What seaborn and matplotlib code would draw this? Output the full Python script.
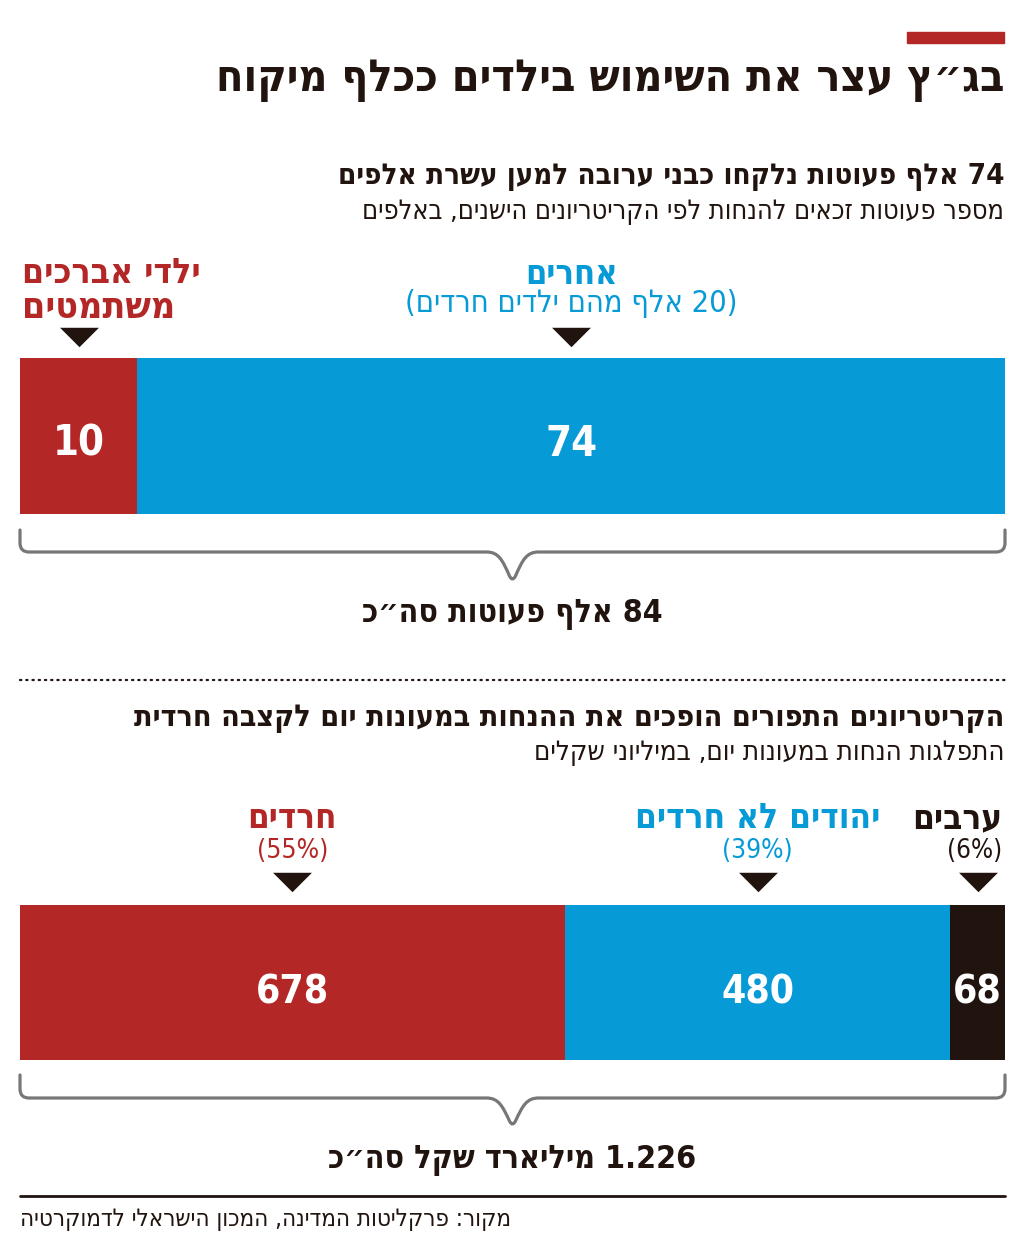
import re
import numpy as np
import pandas as pd
import matplotlib
matplotlib.use("Agg")
import matplotlib.pyplot as plt
import matplotlib.transforms as mtransforms
from matplotlib.path import Path
from matplotlib.patches import PathPatch
import seaborn as sns

# ── data ─────────────────────────────────────────────
title = "בג״ץ עצר את השימוש בילדים ככלף מיקוח"

kids_heading = "74 אלף פעוטות נלקחו כבני ערובה למען עשרת אלפים"
kids_sub = "מספר פעוטות זכאים להנחות לפי הקריטריונים הישנים, באלפים"
kids_groups = ["ילדי אברכים משתמטים", "אחרים"]
kids_values = [10, 74]
kids_notes = ["", "(20 אלף מהם ילדים חרדים)"]
kids_total = "84 אלף פעוטות סה״כ"

budget_heading = "הקריטריונים התפורים הופכים את ההנחות במעונות יום לקצבה חרדית"
budget_sub = "התפלגות הנחות במעונות יום, במיליוני שקלים"
budget_groups = ["חרדים", "יהודים לא חרדים", "ערבים"]
budget_values = [678, 480, 68]
budget_shares = ["(55%)", "(39%)", "(6%)"]
budget_total = "1.226 מיליארד שקל סה״כ"

source = "מקור: פרקליטות המדינה, המכון הישראלי לדמוקרטיה"

RED = "#B42727"
BLUE = "#069AD6"
DARK = "#21140F"
GREY = "#777777"

W, H = 1024, 1240
sns.set_theme(style="white")
plt.rcParams["font.family"] = ["DejaVu Sans"]

fig = plt.figure(figsize=(W / 100, H / 100), dpi=100)
fig.patch.set_facecolor("white")


def fy(py):
    return 1 - py / H


def fx(px):
    return px / W


_MIRROR = str.maketrans("()", ")(")


def rtl(s):
    # crude bidi: reverse hebrew runs, keep number runs left-to-right
    parts = re.findall(r"\d[\d.,%]*\d%?|\d%?|\D+", s)
    out = []
    for p in reversed(parts):
        out.append(p if p[0].isdigit() else p[::-1].translate(_MIRROR))
    return "".join(out)


def put(x, y, s, width=None, size=20, bold=False, color=DARK, ha="right",
        transform=None):
    t = fig.text(x, y, rtl(s), fontsize=size, ha=ha, va="baseline",
                 color=color, fontweight="bold" if bold else "normal",
                 fontstretch="condensed",
                 transform=transform or fig.transFigure)
    if width:
        w = t.get_window_extent(fig.canvas.get_renderer()).width
        t.set_fontsize(size * width / w)
    return t


def brace(ax, ytop, ymid, ytip):
    trans = mtransforms.blended_transform_factory(ax.transAxes, fig.transFigure)
    k = 1.0 / ax.get_window_extent().width
    r, c = 9 * k, 0.5
    verts = [
        (0, fy(ytop)), (0, fy(ymid - 9)),
        (0, fy(ymid)), (r, fy(ymid)),
        (c - 26 * k, fy(ymid)),
        (c - 14 * k, fy(ymid)), (c - 10 * k, fy(ymid + 8)), (c - 3 * k, fy(ytip - 5)),
        (c, fy(ytip + 1)), (c + 3 * k, fy(ytip - 5)),
        (c + 10 * k, fy(ymid + 8)), (c + 14 * k, fy(ymid)), (c + 26 * k, fy(ymid)),
        (1 - r, fy(ymid)),
        (1, fy(ymid)), (1, fy(ymid - 9)),
        (1, fy(ytop)),
    ]
    codes = [Path.MOVETO, Path.LINETO, Path.CURVE3, Path.CURVE3, Path.LINETO,
             Path.CURVE4, Path.CURVE4, Path.CURVE4,
             Path.CURVE3, Path.CURVE3,
             Path.CURVE4, Path.CURVE4, Path.CURVE4,
             Path.LINETO, Path.CURVE3, Path.CURVE3, Path.LINETO]
    ax.add_patch(PathPatch(Path(verts, codes), transform=trans, fill=False,
                           edgecolor=GREY, lw=2.3, clip_on=False,
                           capstyle="round", joinstyle="round"))


def stacked_bar(ax, groups, values, colors):
    cum = np.cumsum(values)
    df = pd.DataFrame({"group": groups, "end": cum, "row": "all"})
    # widest segment first so narrower ones sit on top of it
    order = list(reversed(groups))
    sns.barplot(data=df, x="end", y="row", hue="group", hue_order=order,
                palette=dict(zip(groups, colors)), dodge=False, orient="h",
                width=1, saturation=1, linewidth=0, legend=False, ax=ax)
    ax.set_xlim(0, cum[-1])
    ax.set_ylim(0.5, -0.5)
    ax.axis("off")
    return cum - np.asarray(values) / 2


def marker_row(ax, centers, py):
    trans = mtransforms.blended_transform_factory(ax.transData, fig.transFigure)
    tri = [(-1, 0.5), (1, 0.5), (0, -0.5)]
    ax.scatter(centers, [fy(py)] * len(centers), marker=tri, s=28 ** 2,
               color=DARK, linewidths=0, transform=trans, clip_on=False)


# ── header ───────────────────────────────────────────
fig.patches.append(plt.Rectangle((fx(907), fy(43)), fx(1004) - fx(907),
                                 fy(32) - fy(43), color=RED,
                                 transform=fig.transFigure, figure=fig))
put(fx(1004), fy(91), title, width=786, size=30, bold=True)

# ── chart 1: kids ────────────────────────────────────
put(fx(1004), fy(184), kids_heading, width=666, size=22, bold=True)
put(fx(1004), fy(219), kids_sub, width=642, size=18)

ax1 = fig.add_axes([fx(20), fy(514), fx(1005) - fx(20), fy(358) - fy(514)])
centers1 = stacked_bar(ax1, kids_groups, kids_values, [RED, BLUE])
lab1 = mtransforms.blended_transform_factory(ax1.transData, fig.transFigure)

words = kids_groups[0].split()
put(fx(22), fy(283), " ".join(words[:2]), width=178, size=22, bold=True,
    color=RED, ha="left")
put(fx(22), fy(318), " ".join(words[2:]), width=153, size=22, bold=True,
    color=RED, ha="left")
put(centers1[1], fy(284), kids_groups[1], width=93, size=22, bold=True,
    color=BLUE, ha="center", transform=lab1)
put(centers1[1], fy(312), kids_notes[1], width=333, size=18, color=BLUE,
    ha="center", transform=lab1)
marker_row(ax1, centers1, 337)
for cx, v in zip(centers1, kids_values):
    ax1.text(cx, fy(456), str(v), transform=lab1, ha="center", va="baseline",
             color="white", fontsize=30, fontweight="bold",
             fontstretch="condensed")

brace(ax1, 530, 552, 581)
put(fx(512), fy(622), kids_total, width=300, size=26, bold=True, ha="center")

fig.lines.append(plt.Line2D([fx(20), fx(1005)], [fy(680), fy(680)],
                            transform=fig.transFigure, color=DARK, lw=1.6,
                            linestyle=(0, (0.6, 2.2)), dash_capstyle="round"))

# ── chart 2: budget ──────────────────────────────────
put(fx(1004), fy(726), budget_heading, width=867, size=22, bold=True)
put(fx(1004), fy(760), budget_sub, width=469, size=18)

ax2 = fig.add_axes([fx(20), fy(1060), fx(1005) - fx(20), fy(905) - fy(1060)])
centers2 = stacked_bar(ax2, budget_groups, budget_values, [RED, BLUE, DARK])
lab2 = mtransforms.blended_transform_factory(ax2.transData, fig.transFigure)

label_cols = [RED, BLUE, DARK]
label_w = [89, 245, 90]
share_w = [71, 71, 55]
for i, (g, s) in enumerate(zip(budget_groups, budget_shares)):
    if i == len(budget_groups) - 1:
        # last label is flush with the right edge
        put(fx(1002), fy(828), g, width=label_w[i], size=22, bold=True,
            color=label_cols[i])
        put(fx(1002), fy(858), s, width=share_w[i], size=20,
            color=label_cols[i])
    else:
        put(centers2[i], fy(828), g, width=label_w[i], size=22, bold=True,
            color=label_cols[i], ha="center", transform=lab2)
        put(centers2[i], fy(858), s, width=share_w[i], size=20,
            color=label_cols[i], ha="center", transform=lab2)
marker_row(ax2, centers2, 882)
for cx, v in zip(centers2, budget_values):
    ax2.text(cx, fy(1003), str(v), transform=lab2, ha="center", va="baseline",
             color="white", fontsize=28, fontweight="bold",
             fontstretch="condensed")

brace(ax2, 1075, 1098, 1126)
put(fx(512), fy(1168), budget_total, width=367, size=28, bold=True, ha="center")

# ── footer ───────────────────────────────────────────
fig.lines.append(plt.Line2D([fx(20), fx(1005)], [fy(1196), fy(1196)],
                            transform=fig.transFigure, color=DARK, lw=2))
put(fx(20), fy(1226), source, width=492, size=15, ha="left")

fig.savefig("out.png", dpi=100, facecolor="white")
